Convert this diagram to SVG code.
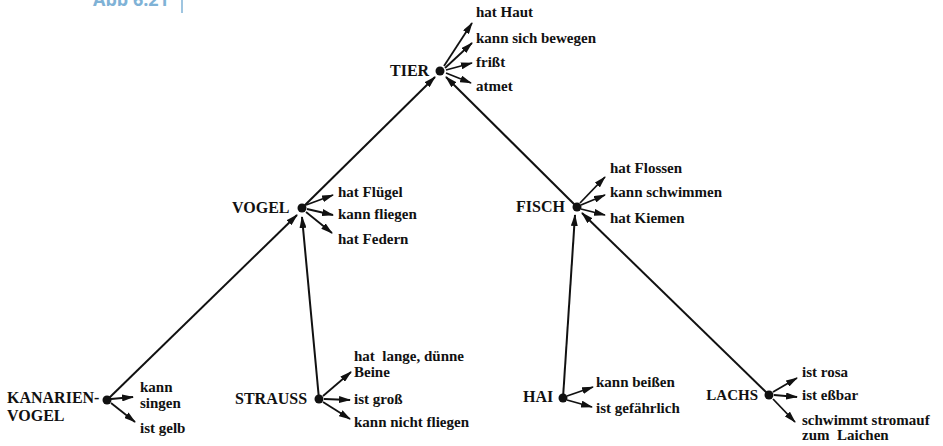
<svg xmlns="http://www.w3.org/2000/svg" width="943" height="446" viewBox="0 0 943 446">
<style>
.n{font-family:"Liberation Serif","DejaVu Serif",serif;font-weight:bold;font-size:16px;fill:#111}
.p{font-family:"Liberation Serif","DejaVu Serif",serif;font-weight:bold;font-size:15px;fill:#111}
.e{stroke:#111;stroke-width:2;fill:none;marker-end:url(#ah)}
.a{stroke:#111;stroke-width:1.8;fill:none;marker-end:url(#ah)}
.d{fill:#111}
.hdr{font-family:"Open Sans","DejaVu Sans",sans-serif;font-weight:bold;font-size:18px;fill:#7fb2d6}
</style>
<defs>
<marker id="ah" markerUnits="userSpaceOnUse" markerWidth="12" markerHeight="7" refX="11" refY="3.5" orient="auto">
<path d="M0,0 L12,3.5 L0,7 z" fill="#111"/>
</marker>
</defs>
<rect width="943" height="446" fill="#fff"/>
<g id="caption">
<text class="hdr" x="93" y="6">Abb 6.21</text>
<line x1="182" y1="0" x2="182" y2="13" stroke="#7fb2d6" stroke-width="1.5"/>
</g>
<g id="connectors">
<line class="e" x1="302" y1="208" x2="435" y2="77"/>
<line class="e" x1="577" y1="207" x2="446" y2="77"/>
<line class="e" x1="107" y1="400" x2="297" y2="215"/>
<line class="e" x1="319" y1="399" x2="302" y2="217"/>
<line class="e" x1="563" y1="398" x2="575" y2="215"/>
<line class="e" x1="769" y1="395" x2="582" y2="213"/>
</g>
<g id="tier">
<line class="a" x1="444" y1="66" x2="472" y2="23"/>
<line class="a" x1="445" y1="68" x2="472" y2="43"/>
<line class="a" x1="446" y1="70" x2="472" y2="63"/>
<line class="a" x1="446" y1="73" x2="471" y2="83"/>
<circle class="d" cx="440" cy="71" r="4.5"/>
<text class="n" x="390" y="76">TIER</text>
<text class="p" x="476" y="17">hat Haut</text>
<text class="p" x="476" y="43">kann sich bewegen</text>
<text class="p" x="476" y="67">frißt</text>
<text class="p" x="476" y="91">atmet</text>
</g>
<g id="vogel">
<line class="a" x1="306" y1="205" x2="333" y2="195"/>
<line class="a" x1="307" y1="209" x2="333" y2="215"/>
<line class="a" x1="306" y1="212" x2="332" y2="233"/>
<circle class="d" cx="302" cy="208" r="4.5"/>
<text class="n" x="232" y="213">VOGEL</text>
<text class="p" x="338" y="197">hat Flügel</text>
<text class="p" x="338" y="219">kann fliegen</text>
<text class="p" x="338" y="244">hat Federn</text>
</g>
<g id="fisch">
<line class="a" x1="580" y1="203" x2="605" y2="177"/>
<line class="a" x1="581" y1="205" x2="605" y2="195"/>
<line class="a" x1="581" y1="209" x2="605" y2="215"/>
<circle class="d" cx="577" cy="207" r="4.5"/>
<text class="n" x="516" y="212">FISCH</text>
<text class="p" x="610" y="173">hat Flossen</text>
<text class="p" x="610" y="197">kann schwimmen</text>
<text class="p" x="610" y="223">hat Kiemen</text>
</g>
<g id="kanarienvogel">
<line class="a" x1="111" y1="399" x2="133" y2="397"/>
<line class="a" x1="111" y1="403" x2="135" y2="422"/>
<circle class="d" cx="107" cy="400" r="4.5"/>
<text class="n" x="7" y="403">KANARIEN-</text>
<text class="n" x="7" y="421">VOGEL</text>
<text class="p" x="140" y="392">kann</text>
<text class="p" x="140" y="408">singen</text>
<text class="p" x="140" y="433">ist gelb</text>
</g>
<g id="strauss">
<line class="a" x1="323" y1="396" x2="351" y2="372"/>
<line class="a" x1="324" y1="399" x2="350" y2="400"/>
<line class="a" x1="323" y1="402" x2="350" y2="419"/>
<circle class="d" cx="319" cy="399" r="4.5"/>
<text class="n" x="235" y="404">STRAUSS</text>
<text class="p" x="354" y="361" xml:space="preserve">hat  lange, dünne</text>
<text class="p" x="354" y="377">Beine</text>
<text class="p" x="354" y="404">ist groß</text>
<text class="p" x="354" y="427">kann nicht fliegen</text>
</g>
<g id="hai">
<line class="a" x1="567" y1="396" x2="593" y2="387"/>
<line class="a" x1="567" y1="400" x2="592" y2="407"/>
<circle class="d" cx="563" cy="398" r="4.5"/>
<text class="n" x="523" y="402">HAI</text>
<text class="p" x="596" y="387">kann beißen</text>
<text class="p" x="596" y="413">ist gefährlich</text>
</g>
<g id="lachs">
<line class="a" x1="773" y1="392" x2="797" y2="378"/>
<line class="a" x1="774" y1="395" x2="797" y2="397"/>
<line class="a" x1="773" y1="399" x2="795" y2="422"/>
<circle class="d" cx="769" cy="395" r="4.5"/>
<text class="n" x="758" y="400" text-anchor="end" style="font-size:15px">LACHS</text>
<text class="p" x="802" y="377">ist rosa</text>
<text class="p" x="802" y="400">ist eßbar</text>
<text class="p" x="802" y="425">schwimmt stromauf</text>
<text class="p" x="802" y="440" xml:space="preserve">zum  Laichen</text>
</g>
</svg>
